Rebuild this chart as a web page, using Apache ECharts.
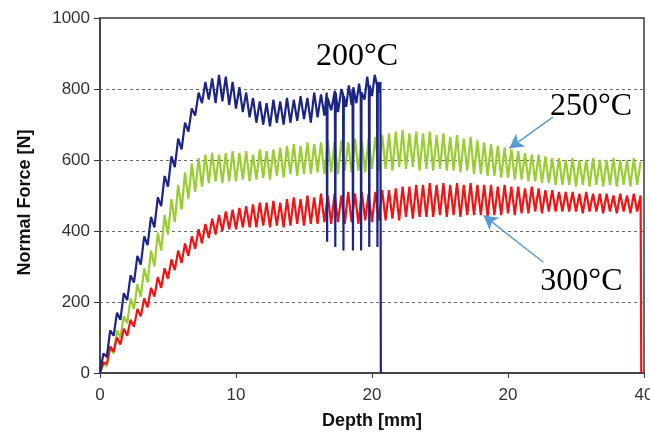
<!DOCTYPE html>
<html>
<head>
<meta charset="utf-8">
<script src="https://cdn.jsdelivr.net/npm/echarts@6/dist/echarts.min.js"></script>
<style>
html,body{margin:0;padding:0;background:#fff;}
#chart{width:650px;height:434px;}
</style>
</head>
<body>
<div id="chart"></div>
<script>
// ---- Data ----
const xTickLabels = ['0', '10', '20', '20', '40'];
const yTickValues = [0, 200, 400, 600, 800, 1000];

// Sampling grid shared by the 250°C and 300°C traces (mm)
const gridDepth = [
  0,0.25,0.5,0.75, 1,1.25,1.5,1.75, 2,2.25,2.5,2.75, 3,3.25,3.5,3.75,
  4,4.25,4.5,4.75, 5,5.25,5.5,5.75, 6,6.25,6.5,6.75, 7,7.25,7.5,7.75,
  8,8.25,8.5,8.75, 9,9.25,9.5,9.75, 10,10.25,10.5,10.75, 11,11.25,11.5,11.75,
  12,12.25,12.5,12.75, 13,13.25,13.5,13.75, 14,14.25,14.5,14.75, 15,15.25,15.5,15.75,
  16,16.25,16.5,16.75, 17,17.25,17.5,17.75, 18,18.25,18.5,18.75, 19,19.25,19.5,19.75,
  20,20.25,20.5,20.75, 21,21.25,21.5,21.75, 22,22.25,22.5,22.75, 23,23.25,23.5,23.75,
  24,24.25,24.5,24.75, 25,25.25,25.5,25.75, 26,26.25,26.5,26.75, 27,27.25,27.5,27.75,
  28,28.25,28.5,28.75, 29,29.25,29.5,29.75, 30,30.25,30.5,30.75, 31,31.25,31.5,31.75,
  32,32.25,32.5,32.75, 33,33.25,33.5,33.75, 34,34.25,34.5,34.75, 35,35.25,35.5,35.75,
  36,36.25,36.5,36.75, 37,37.25,37.5,37.75, 38,38.25,38.5,38.75, 39,39.25,39.5,39.75
];

// 250°C (green)
const force250 = [
  0,25,20,70, 55,120,100,160, 140,210,180,250, 215,295,255,345,
  300,395,345,445, 390,490,425,530, 460,565,490,590, 510,605,525,615,
  535,620,540,615, 535,620,540,625, 540,620,545,625, 540,615,545,630,
  550,625,545,630, 555,635,550,640, 560,645,555,640, 560,650,560,645,
  565,650,560,655, 565,650,560,655, 570,650,565,660, 570,655,565,660,
  575,665,570,670, 575,675,570,680, 580,685,575,675, 580,680,570,675,
  575,680,570,670, 575,675,570,665, 570,670,565,660, 570,665,560,655,
  560,650,555,645, 555,640,550,635, 550,630,545,625, 545,620,540,615,
  540,615,535,610, 535,605,530,605, 530,600,530,605, 525,600,530,600,
  525,605,530,600, 525,600,530,605, 525,600,530,600, 525,605,530,595
];

// 300°C (red)
const force300 = [
  0,30,25,75, 60,100,80,125, 105,150,130,180, 160,210,185,240,
  215,270,240,295, 265,320,290,345, 310,365,330,385, 350,405,365,420,
  380,435,390,445, 400,455,405,460, 405,465,410,470, 410,475,410,480,
  415,480,410,485, 415,480,410,490, 415,495,420,490, 415,500,420,495,
  420,505,425,500, 420,505,425,500, 420,510,425,505, 420,510,430,505,
  425,510,430,515, 430,515,435,520, 430,525,440,525, 435,530,440,530,
  440,535,440,530, 445,535,440,530, 445,535,440,530, 445,535,445,530,
  445,530,440,530, 445,525,445,530, 450,525,445,525, 450,520,450,525,
  455,520,450,515, 455,515,455,510, 455,510,455,510, 455,505,450,510,
  455,505,455,505, 450,505,455,500, 450,505,455,500, 450,505,455,500
];
const end300Depth = [39.8];
const end300Force = [0];

// 200°C (blue) – own sampling, includes the sharp downward spikes near the end
const depth200 = [
  0,0.25,0.5,0.75, 1,1.25,1.5,1.75, 2,2.25,2.5,2.75, 3,3.25,3.5,3.75,
  4,4.25,4.5,4.75, 5,5.25,5.5,5.75, 6,6.25,6.5,6.75, 7,7.25,7.5,7.75,
  8,8.25,8.5,8.75, 9,9.25,9.5,9.75, 10,10.25,10.5,10.75, 11,11.25,11.5,11.75,
  12,12.25,12.5,12.75, 13,13.25,13.5,13.75, 14,14.25,14.5,14.75, 15,15.25,15.5,15.75,
  16,16.25,16.5,16.67,16.7,16.73, 17,17.27,17.3,17.33, 17.5,17.75,17.87,17.9,17.93,
  18.1,18.3,18.5,18.57,18.6,18.63, 18.85,19.05,19.17,19.2,19.23, 19.45,19.65,19.77,19.8,19.83,
  20,20.2,20.37,20.4,20.43,20.55,20.62,20.65
];
const force200 = [
  0,55,45,120, 105,170,150,225, 205,275,255,330, 305,385,360,440,
  410,495,470,555, 525,610,580,660, 630,705,680,745, 725,790,760,820,
  770,830,760,840, 765,835,755,820, 745,805,735,790, 720,775,705,765,
  700,760,695,770, 705,765,700,775, 705,770,710,780, 715,775,705,790,
  720,785,725,790,370,775, 740,795,355,790, 735,800,785,345,780,
  750,810,755,800,345,805, 760,815,780,345,790, 770,835,800,355,810,
  780,840,810,355,820,790,820,0
];

// Annotations (data coordinates)
const labelTexts = ['200°C', '250°C', '300°C'];
const labelDepth = [18.9, 36.1, 35.4];
const labelForce = [890, 751, 258];
const arrowFrom = [[33.3, 721], [32.6, 312]];
const arrowTo = [[30.1, 633], [28.2, 444]];

// ---- Build series data ----
function pairs(xs, ys) { return xs.map((x, i) => [x, ys[i]]); }
const data250 = pairs(gridDepth, force250);
const data300 = pairs(gridDepth, force300).concat(pairs(end300Depth, end300Force));
const data200 = pairs(depth200, force200);

const sans = "Arial, 'Liberation Sans', Helvetica, sans-serif";
const serif = "'Times New Roman', 'Liberation Serif', serif";

const chart = echarts.init(document.getElementById('chart'), null, {renderer: 'canvas'});
const option = {
  animation: false,
  backgroundColor: '#ffffff',
  grid: {left: 100, right: 6, top: 18, bottom: 61, show: true, borderColor: '#3a3a3a', borderWidth: 1.5,
         containLabel: false, outerBoundsMode: 'none'},
  xAxis: {
    type: 'value', min: 0, max: 40, interval: 10,
    name: 'Depth [mm]', nameLocation: 'middle', nameGap: 39,
    nameTextStyle: {fontFamily: sans, fontSize: 18, fontWeight: 'bold', color: '#111'},
    axisLine: {show: true, lineStyle: {color: '#3a3a3a', width: 1.5}},
    axisTick: {show: true, inside: false, length: 5, lineStyle: {color: '#3a3a3a'}},
    axisLabel: {margin: 14, fontFamily: sans, fontSize: 17, color: '#333', hideOverlap: false,
      formatter: function (v) { const i = Math.round(v / 10); return xTickLabels[i] !== undefined ? xTickLabels[i] : ''; }},
    splitLine: {show: false}
  },
  yAxis: {
    type: 'value', min: 0, max: 1000, interval: 200,
    name: 'Normal Force [N]', nameLocation: 'middle', nameGap: 66,
    nameTextStyle: {fontFamily: sans, fontSize: 18, fontWeight: 'bold', color: '#111', padding: [0, 14, 0, 0]},
    axisLine: {show: true, lineStyle: {color: '#3a3a3a', width: 1.5}},
    axisTick: {show: true, inside: false, length: 6, lineStyle: {color: '#3a3a3a'}},
    axisLabel: {margin: 10, fontFamily: sans, fontSize: 17, color: '#333',
      formatter: function (v) { return yTickValues.indexOf(v) >= 0 ? String(v) : ''; }},
    splitLine: {show: true, lineStyle: {color: '#6a6a6a', type: [3, 3], width: 1}}
  },
  series: [
    {name: '250°C', type: 'line', data: data250, showSymbol: false, symbol: 'none',
     lineStyle: {color: '#9acd32', width: 2.2}, itemStyle: {color: '#9acd32'},
     markLine: {silent: true, symbol: ['none', 'arrow'], symbolSize: [12, 14], label: {show: false},
       lineStyle: {color: '#5b9bd5', width: 1.5, type: 'solid'},
       data: [[{coord: arrowFrom[0]}, {coord: arrowTo[0]}]]}},
    {name: '300°C', type: 'line', data: data300, showSymbol: false, symbol: 'none',
     lineStyle: {color: '#f01414', width: 2.2}, itemStyle: {color: '#f01414'},
     markLine: {silent: true, symbol: ['none', 'arrow'], symbolSize: [12, 14], label: {show: false},
       lineStyle: {color: '#5b9bd5', width: 1.5, type: 'solid'},
       data: [[{coord: arrowFrom[1]}, {coord: arrowTo[1]}]]}},
    {name: '200°C', type: 'line', data: data200, showSymbol: false, symbol: 'none',
     lineStyle: {color: '#1c2584', width: 2.2}, itemStyle: {color: '#1c2584'}}
  ]
};
chart.setOption(option);

// Temperature labels placed through the axis scales
const graphics = labelTexts.map(function (t, i) {
  const p = chart.convertToPixel({gridIndex: 0}, [labelDepth[i], labelForce[i]]);
  return {type: 'text', x: p[0], y: p[1], z: 100,
    style: {text: t, font: '32px ' + serif, fill: '#000', textAlign: 'center', textVerticalAlign: 'middle'}};
});
chart.setOption({graphic: graphics});
</script>
</body>
</html>
